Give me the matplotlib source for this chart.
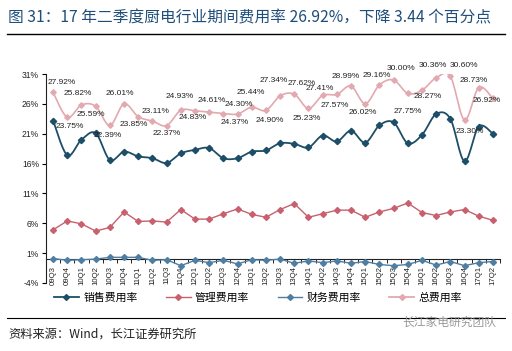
import matplotlib
matplotlib.use("Agg")
import matplotlib.pyplot as plt
import numpy as np
from matplotlib.lines import Line2D

plt.rcParams['font.family'] = ['Liberation Sans', 'Noto Sans CJK SC', 'DejaVu Sans']

quarters = ["09Q3", "09Q4", "10Q1", "10Q2", "10Q3", "10Q4", "11Q1", "11Q2", "11Q3", "11Q4",
            "12Q1", "12Q2", "12Q3", "12Q4", "13Q1", "13Q2", "13Q3", "13Q4", "14Q1", "14Q2",
            "14Q3", "14Q4", "15Q1", "15Q2", "15Q3", "15Q4", "16Q1", "16Q2", "16Q3", "16Q4",
            "17Q1", "17Q2"]
sales_rate = [23.2, 17.4, 20.0, 21.1, 16.6, 18.0, 17.2, 16.9, 16.1, 17.7,
              18.3, 18.6, 16.9, 16.9, 18.0, 18.2, 19.4, 19.3, 18.7, 20.7,
              19.7, 21.5, 19.5, 22.4, 22.9, 19.4, 20.8, 24.3, 23.5, 16.4,
              22.2, 21.0]
mgmt_rate = [4.9, 6.4, 5.9, 4.7, 5.3, 7.9, 6.3, 6.4, 6.2, 8.3,
             6.7, 6.7, 7.6, 8.4, 7.5, 7.0, 8.3, 9.3, 7.0, 7.6,
             8.2, 8.2, 7.0, 7.9, 8.5, 9.4, 7.8, 7.3, 7.9, 8.3,
             7.2, 6.5]
fin_rate = [0.1, -0.2, -0.1, 0.0, 0.3, 0.3, 0.3, -0.2, -0.1, -1.1,
            -0.2, -0.6, -0.2, -0.8, -0.1, -0.2, 0.0, -0.7, -0.3, -0.6,
            -0.3, -0.7, -0.4, -0.9, -1.1, -0.9, -0.2, -1.0, -0.4, -1.1,
            -0.6, -0.4]
total_rate = [27.92, 23.75, 25.82, 25.59, 22.39, 26.01, 23.85, 23.11, 22.37, 24.93,
              24.83, 24.61, 24.37, 24.30, 25.44, 24.90, 27.34, 27.62, 25.23, 27.41,
              27.57, 28.99, 26.02, 29.16, 30.00, 27.75, 28.27, 30.36, 30.60, 23.30,
              28.73, 26.92]
series_names = ["销售费用率", "管理费用率", "财务费用率", "总费用率"]
yticks = [-4, 1, 6, 11, 16, 21, 26, 31]

# label offsets in pixels (dx right, dy down)
lab_dx = [9, 3, -4, -5, -2, -4, -4, 3, 0, -1, -2, 3, 11, 1, -1, 4,
          -6, 7, -2, -3, -2, -5, -2, -3, 7, 0, 6, -3, 14, 5, -5, -6]
lab_dy = [-10, 9, -11, 8, 10, -10, 8, -10, 8, -14, 7, -12, 9, -10, -15, 10,
          -15, -11, 10, -7, 11, -10, 9, -9, -11, 18, 6, -12, -11, 12, -7, 2]

C_SALES = "#1D4E68"
C_MGMT = "#C8606E"
C_FIN = "#4E7FA2"
C_TOTAL = "#E2A9B0"


def smooth(xs, ys, n=16):
    xs = np.asarray(xs, float)
    ys = np.asarray(ys, float)
    P = np.column_stack([xs, ys])
    P = np.vstack([P[0], P, P[-1]])
    out = []
    for i in range(1, len(P) - 2):
        p0, p1, p2, p3 = P[i - 1], P[i], P[i + 1], P[i + 2]
        c1 = p1 + (p2 - p0) / 6.0
        c2 = p2 - (p3 - p1) / 6.0
        t = np.linspace(0, 1, n, endpoint=(i == len(P) - 3))[:, None]
        seg = ((1 - t) ** 3) * p1 + 3 * ((1 - t) ** 2) * t * c1 + 3 * (1 - t) * t ** 2 * c2 + t ** 3 * p2
        out.append(seg)
    out = np.vstack(out)
    return out[:, 0], out[:, 1]


fig = plt.figure(figsize=(5.12, 3.51), dpi=100)
ax = fig.add_axes([46 / 512, 1 - 283 / 351, 454 / 512, 209 / 351])

x = np.arange(len(quarters))

sx, sy = smooth(x, sales_rate)
ax.plot(sx, sy, color=C_SALES, lw=1.3, zorder=4)
ax.plot(x, sales_rate, ls="none", marker="D", ms=3.2, color=C_SALES, zorder=5)

ax.plot(x, mgmt_rate, color=C_MGMT, lw=1.0, marker="D", ms=3.0, zorder=4)
ax.plot(x, fin_rate, color=C_FIN, lw=1.0, marker="D", ms=3.0, zorder=4)

tx, ty = smooth(x, total_rate)
ax.plot(tx, ty, color=C_TOTAL, lw=1.2, zorder=3)
ax.plot(x, total_rate, ls="none", marker="D", ms=2.8, color=C_TOTAL, zorder=3)

for i, v in enumerate(total_rate):
    ax.annotate(f"{v:.2f}%", (x[i], v), xytext=(lab_dx[i], -lab_dy[i]),
                textcoords="offset pixels", ha="center", va="center",
                fontsize=6.0, color="#222222", clip_on=False, zorder=6)

ax.set_xlim(-0.5, len(quarters) - 0.5)
ax.set_ylim(-4, 31)
ax.set_yticks(yticks)
ax.set_yticklabels([f"{t}%" for t in yticks], fontsize=6.2, color="#222222")
ax.tick_params(axis="y", length=3, width=0.8, pad=2, direction="out")

ax.spines["top"].set_visible(False)
ax.spines["right"].set_visible(False)
ax.spines["bottom"].set_position(("data", 0))
ax.spines["bottom"].set_color("#222222")
ax.spines["left"].set_color("#222222")
ax.spines["bottom"].set_linewidth(0.8)
ax.spines["left"].set_linewidth(0.8)

ax.set_xticks(x)
ax.set_xticklabels(quarters, rotation=90, fontsize=5.6, color="#222222")
ax.tick_params(axis="x", length=0, pad=5)
ax.set_xticks(np.arange(len(quarters) + 1) - 0.5, minor=True)
ax.tick_params(axis="x", which="minor", length=3, width=0.7, direction="out", color="#222222")

handles = [
    Line2D([], [], color=C_SALES, lw=1.3, marker="D", ms=3),
    Line2D([], [], color=C_MGMT, lw=1.0, marker="D", ms=3),
    Line2D([], [], color=C_FIN, lw=1.0, marker="D", ms=3),
    Line2D([], [], color=C_TOTAL, lw=1.3, marker="D", ms=3),
]
fig.legend(handles, series_names, loc="center", bbox_to_anchor=(258 / 512, 1 - 298 / 351),
           ncol=4, frameon=False, prop={"family": ["Noto Sans CJK SC"], "size": 7.8},
           handlelength=2.3, columnspacing=2.6, handletextpad=0.4)

fig.text(8 / 512, 1 - 18 / 351, "图 31：17 年二季度厨电行业期间费用率 26.92%，下降 3.44 个百分点",
         fontsize=11.3, color="#1F4E79", ha="left", va="center",
         family=["Noto Sans CJK SC", "DejaVu Sans"])
fig.add_artist(Line2D([7 / 512, 505 / 512], [1 - 34 / 351, 1 - 34 / 351], color="black", lw=1.0))
fig.add_artist(Line2D([7 / 512, 505 / 512], [1 - 318 / 351, 1 - 318 / 351], color="black", lw=0.8))
fig.text(8 / 512, 1 - 334 / 351, "资料来源：Wind，长江证券研究所", fontsize=8.8, color="#222222",
         ha="left", va="center", family=["Noto Sans CJK SC", "DejaVu Sans"])
fig.text(496 / 512, 1 - 322 / 351, "长江家电研究团队", fontsize=8.5, color="#9A9A9A",
         ha="right", va="center", family=["Noto Sans CJK SC", "DejaVu Sans"])

fig.savefig("out.png", dpi=100)
